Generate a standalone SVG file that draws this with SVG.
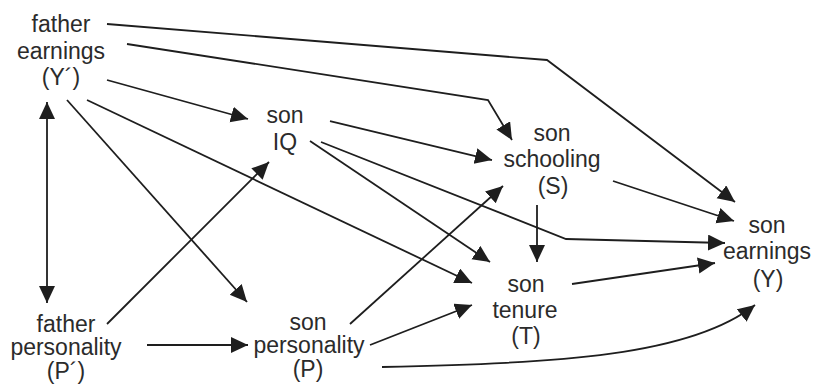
<svg xmlns="http://www.w3.org/2000/svg" width="813" height="385" viewBox="0 0 813 385">
  <style>
    .lbl { font-family: "Liberation Sans", Arial, Helvetica, sans-serif; font-size: 23px; fill: #2b2b2b; text-anchor: middle; }
    .edge { fill: none; stroke: #1e1e1e; stroke-width: 1.8; stroke-linejoin: miter; marker-end: url(#arrow); }
  </style>
  <defs>
    <marker id="arrow" markerUnits="userSpaceOnUse" markerWidth="18" markerHeight="18" refX="17" refY="8" orient="auto">
      <path d="M0,0 L17,8 L0,16 Z" fill="#1e1e1e"/>
    </marker>
    <marker id="arrowStart" markerUnits="userSpaceOnUse" markerWidth="18" markerHeight="18" refX="17" refY="8" orient="auto-start-reverse">
      <path d="M0,0 L17,8 L0,16 Z" fill="#1e1e1e"/>
    </marker>
  </defs>
  <rect width="813" height="385" fill="#ffffff"/>

  <g id="connectors">
    <!-- father earnings -> son earnings -->
    <polyline class="edge" points="107,24 547,60 735,202"/>
    <!-- father earnings -> son schooling -->
    <polyline class="edge" points="127,44 488,100 512,140"/>
    <!-- father earnings -> son IQ -->
    <line class="edge" x1="107" y1="80" x2="248" y2="119"/>
    <!-- father earnings -> son personality -->
    <line class="edge" x1="67" y1="100" x2="247" y2="302"/>
    <!-- father earnings -> son tenure -->
    <line class="edge" x1="87" y1="100" x2="472" y2="283"/>
    <!-- father earnings <-> father personality -->
    <line class="edge" x1="47" y1="102" x2="47" y2="303" marker-start="url(#arrowStart)"/>
    <!-- son IQ -> son schooling -->
    <line class="edge" x1="330" y1="121" x2="492" y2="160"/>
    <!-- son IQ -> son tenure -->
    <line class="edge" x1="310" y1="141" x2="490" y2="262"/>
    <!-- son IQ -> son earnings -->
    <polyline class="edge" points="321,142 566,239 725,243"/>
    <!-- son schooling -> son earnings -->
    <line class="edge" x1="613" y1="181" x2="734" y2="221"/>
    <!-- son schooling -> son tenure -->
    <line class="edge" x1="537" y1="205" x2="537" y2="262"/>
    <!-- son tenure -> son earnings -->
    <line class="edge" x1="572" y1="284" x2="715" y2="263"/>
    <!-- father personality -> son IQ -->
    <line class="edge" x1="107" y1="324" x2="269" y2="162"/>
    <!-- father personality -> son personality -->
    <line class="edge" x1="147" y1="345" x2="248" y2="345"/>
    <!-- son personality -> son schooling -->
    <line class="edge" x1="350" y1="324" x2="503" y2="186"/>
    <!-- son personality -> son tenure -->
    <line class="edge" x1="370" y1="345" x2="472" y2="305"/>
    <!-- son personality -> son earnings -->
    <path class="edge" d="M382,367 C560,363 690,356 755,305"/>
  </g>

  <g id="father-earnings">
    <text class="lbl" x="61" y="32">father</text>
    <text class="lbl" x="61" y="59">earnings</text>
    <text class="lbl" x="61" y="85">(Y´)</text>
  </g>
  <g id="son-iq">
    <text class="lbl" x="285" y="123">son</text>
    <text class="lbl" x="285" y="150">IQ</text>
  </g>
  <g id="son-schooling">
    <text class="lbl" x="552" y="141">son</text>
    <text class="lbl" x="552" y="167">schooling</text>
    <text class="lbl" x="553" y="194">(S)</text>
  </g>
  <g id="son-earnings">
    <text class="lbl" x="767" y="233">son</text>
    <text class="lbl" x="767" y="259">earnings</text>
    <text class="lbl" x="768" y="287">(Y)</text>
  </g>
  <g id="son-tenure">
    <text class="lbl" x="526" y="292">son</text>
    <text class="lbl" x="525" y="318">tenure</text>
    <text class="lbl" x="526" y="344">(T)</text>
  </g>
  <g id="father-personality">
    <text class="lbl" x="66" y="332">father</text>
    <text class="lbl" x="66" y="355">personality</text>
    <text class="lbl" x="66" y="379">(P´)</text>
  </g>
  <g id="son-personality">
    <text class="lbl" x="308" y="330">son</text>
    <text class="lbl" x="309" y="353">personality</text>
    <text class="lbl" x="308" y="377">(P)</text>
  </g>
</svg>
